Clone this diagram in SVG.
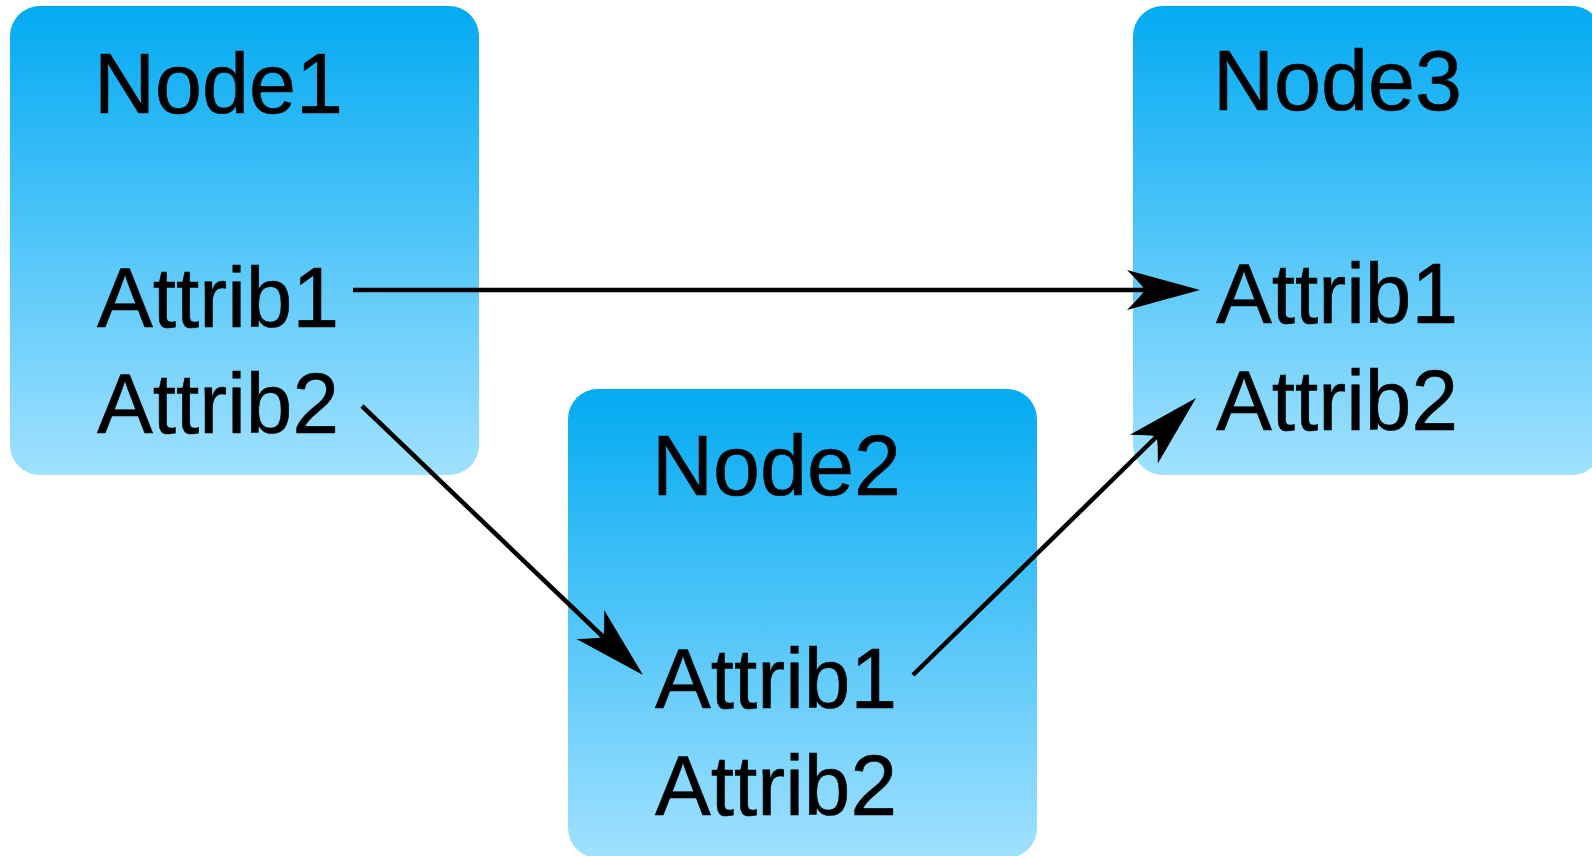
<svg xmlns="http://www.w3.org/2000/svg" width="1592" height="856" viewBox="0 0 1592 856">
<style>
.node{fill:url(#g);}
.t{font-family:"Liberation Sans",Arial,sans-serif;font-size:86px;fill:#000;stroke:#000;stroke-width:0.6;}
.c{stroke:#000;stroke-width:4.5;fill:none;marker-end:url(#arr);}
</style>
<defs>
<linearGradient id="g" x1="0" y1="0" x2="0" y2="1">
<stop offset="0" stop-color="#03AAF2"/>
<stop offset="1" stop-color="#A0E1FF"/>
</linearGradient>
<marker id="arr" markerUnits="userSpaceOnUse" viewBox="-20 -22 78 44" markerWidth="78" markerHeight="44" refX="0" refY="0" orient="auto">
<path d="M55,0 L-18,-20 Q-4,-6 0,0 Q-4,6 -18,20 Z" fill="#000"/>
</marker>
</defs>
<rect width="1592" height="856" fill="#fff"/>
<g id="node1">
<rect class="node" x="10" y="6" width="469" height="469" rx="30"/>
<text class="t" x="94" y="113" textLength="249" lengthAdjust="spacingAndGlyphs">Node1</text>
<text class="t" x="97" y="327" textLength="242" lengthAdjust="spacingAndGlyphs">Attrib1</text>
<text class="t" x="97" y="433" textLength="242" lengthAdjust="spacingAndGlyphs">Attrib2</text>
</g>
<g id="node2">
<rect class="node" x="568" y="389" width="469" height="469" rx="30"/>
<text class="t" x="652" y="495" textLength="249" lengthAdjust="spacingAndGlyphs">Node2</text>
<text class="t" x="655" y="708" textLength="242" lengthAdjust="spacingAndGlyphs">Attrib1</text>
<text class="t" x="655" y="815" textLength="242" lengthAdjust="spacingAndGlyphs">Attrib2</text>
</g>
<g id="node3">
<rect class="node" x="1133" y="6" width="469" height="469" rx="30"/>
<text class="t" x="1213" y="110" textLength="249" lengthAdjust="spacingAndGlyphs">Node3</text>
<text class="t" x="1216" y="323" textLength="242" lengthAdjust="spacingAndGlyphs">Attrib1</text>
<text class="t" x="1216" y="430" textLength="242" lengthAdjust="spacingAndGlyphs">Attrib2</text>
</g>
<g id="connectors">
<line class="c" x1="353" y1="290" x2="1145" y2="290"/>
<line class="c" x1="362" y1="406" x2="603.3" y2="637"/>
<line class="c" x1="913" y1="675" x2="1156.7" y2="436.5"/>
</g>
</svg>
